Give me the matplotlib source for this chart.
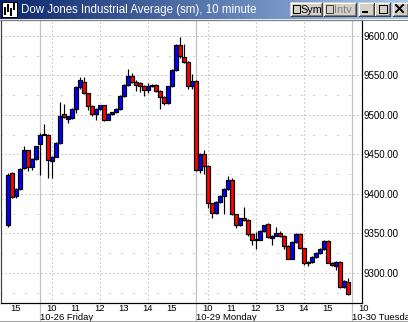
# ===============================
# Import Required Libraries
# ===============================
import numpy as np
import matplotlib
matplotlib.use("Agg")
import matplotlib.pyplot as plt
from matplotlib.patches import Rectangle
from matplotlib.colors import LinearSegmentedColormap


# ===============================
# Chart Data (10 minute bars)
# ===============================
opens = [9360, 9426, 9397, 9406, 9433, 9455, 9434, 9444, 9463, 9475,
         9475, 9442, 9447, 9464, 9501, 9495, 9496, 9507, 9535, 9542,
         9527, 9511, 9501, 9507, 9512, 9494, 9501, 9503, 9507, 9524,
         9538, 9549, 9541, 9540, 9537, 9532, 9536, 9538, 9530, 9523,
         9515, 9536, 9557, 9588, 9573, 9567, 9536, 9543, 9430, 9451,
         9435, 9388, 9376, 9390, 9397, 9406, 9418, 9374, 9360, 9370,
         9367, 9349, 9342, 9342, 9353, 9362, 9344, 9347, 9351, 9347,
         9334, 9318, 9339, 9349, 9331, 9312, 9314, 9320, 9325, 9330,
         9340, 9313, 9309, 9314, 9282, 9288]
highs = [9426, 9428, 9407, 9433, 9460, 9456, 9445, 9461, 9477, 9488,
         9476, 9448, 9465, 9516, 9514, 9499, 9508, 9536, 9548, 9548,
         9528, 9512, 9508, 9513, 9513, 9502, 9504, 9508, 9525, 9539,
         9558, 9553, 9544, 9541, 9538, 9540, 9539, 9539, 9531, 9524,
         9537, 9558, 9589, 9599, 9590, 9568, 9552, 9544, 9452, 9456,
         9436, 9389, 9391, 9398, 9407, 9422, 9420, 9375, 9370, 9383,
         9368, 9350, 9352, 9354, 9361, 9363, 9348, 9358, 9353, 9348,
         9335, 9340, 9350, 9350, 9332, 9315, 9321, 9326, 9331, 9341,
         9341, 9314, 9315, 9315, 9291, 9293]
lows = [9358, 9395, 9395, 9405, 9432, 9429, 9430, 9443, 9424, 9474,
        9420, 9420, 9446, 9463, 9496, 9490, 9495, 9502, 9533, 9526,
        9506, 9499, 9494, 9506, 9492, 9493, 9500, 9502, 9506, 9523,
        9537, 9540, 9530, 9529, 9524, 9527, 9535, 9529, 9507, 9513,
        9514, 9535, 9556, 9572, 9566, 9533, 9533, 9429, 9426, 9425,
        9382, 9369, 9375, 9389, 9374, 9405, 9373, 9357, 9359, 9366,
        9347, 9335, 9330, 9341, 9352, 9344, 9335, 9346, 9345, 9330,
        9317, 9317, 9338, 9330, 9310, 9309, 9313, 9319, 9324, 9329,
        9312, 9308, 9303, 9281, 9281, 9272]
closes = [9424, 9396, 9406, 9432, 9455, 9434, 9444, 9460, 9475, 9476,
          9443, 9447, 9464, 9499, 9497, 9498, 9507, 9535, 9544, 9527,
          9511, 9501, 9507, 9512, 9494, 9501, 9503, 9507, 9524, 9538,
          9549, 9541, 9538, 9537, 9532, 9536, 9538, 9530, 9523, 9515,
          9536, 9557, 9588, 9574, 9567, 9536, 9543, 9430, 9451, 9435,
          9388, 9376, 9390, 9397, 9406, 9418, 9374, 9360, 9369, 9367,
          9349, 9342, 9342.5, 9353, 9361, 9345, 9347, 9351, 9347, 9334,
          9318, 9339, 9349, 9331, 9313, 9314, 9320, 9325, 9330, 9340,
          9313, 9310, 9314, 9282, 9290, 9273]

# hour labels (bar position of each full hour)
hour_ticks = [2, 11, 17, 23, 29, 35, 41, 50, 56, 62, 68, 74, 80, 89]
hour_labels = ['15', '10', '11', '12', '13', '14', '15',
               '10', '11', '12', '13', '14', '15', '10']
grid_ticks = [11, 23, 35, 50, 62, 74]
day_breaks = [8, 47, 86]
day_labels = ['10-26 Friday', '10-29 Monday', '10-30 Tuesday']
price_ticks = [9300, 9350, 9400, 9450, 9500, 9550, 9600]
price_minor = [9275, 9325, 9375, 9425, 9475, 9525, 9575]

title = 'Dow Jones Industrial Average (sm), 10 minute'


# ===============================
# Figure Setup
# ===============================
W, H = 408, 322
fig = plt.figure(figsize=(W / 100, H / 100), dpi=100)
fig.patch.set_facecolor('white')
ax = fig.add_axes([1 / W, 19 / H, 361 / W, 283 / H])
ax.set_xlim(-1.625, 88.625)
ax.set_ylim(9261.8, 9620)

px = 0.72  # one pixel in points

# grid
for p in price_ticks:
    ax.axhline(p, color='#a0a0a0', lw=px, ls=(0, (1, 3)), zorder=0)
for p in price_minor:
    ax.axhline(p, color='#a0a0a0', lw=px, ls=(0, (1, 11)), zorder=0)
for t in grid_ticks:
    ax.axvline(t, color='#a0a0a0', lw=px, ls=(0, (1, 3)), zorder=0)
for t in day_breaks:
    ax.axvline(t, ymin=-0.06, ymax=1, color='#c0c0c0', lw=px * 1.2,
               clip_on=False, zorder=1)


# ===============================
# Candles
# ===============================
o = np.array(opens, dtype=float)
c = np.array(closes, dtype=float)
idx = np.arange(len(o))
up = c >= o
body_lo = np.minimum(o, c)
body_h = np.maximum(np.abs(c - o), 0.4)

ax.vlines(idx, lows, highs, color='black', lw=px * 1.2, zorder=2)
ax.bar(idx[up], body_h[up], bottom=body_lo[up], width=1.0,
       color='#0000ff', edgecolor='black', lw=px * 1.2, zorder=3)
ax.bar(idx[~up], body_h[~up], bottom=body_lo[~up], width=1.0,
       color='#ff0000', edgecolor='black', lw=px * 1.2, zorder=3)


# ===============================
# Axes and Labels
# ===============================
for s in ['left', 'top']:
    ax.spines[s].set_color('#404040')
ax.spines['right'].set_color('black')
ax.spines['bottom'].set_color('black')
for s in ax.spines.values():
    s.set_linewidth(px * 1.2)

ax.yaxis.tick_right()
ax.set_yticks(price_ticks, [f'{p:.2f}' for p in price_ticks])
ax.tick_params(axis='y', length=0, pad=1.2, labelsize=7,
               labelfontfamily='Liberation Sans')
ax.set_xticks([])

xt = ax.get_xaxis_transform()
for t, lab in zip(hour_ticks, hour_labels):
    ax.text(t, -0.005, lab, transform=xt, ha='center', va='top',
            fontsize=6.8, family='Liberation Sans', clip_on=False)
for t, lab in zip(day_breaks, day_labels):
    ax.text(t + 0.15, -0.035, lab, transform=xt, ha='left', va='top',
            fontsize=6.8, family='Liberation Sans', clip_on=False)


# ===============================
# Window Title Bar
# ===============================
deco = fig.add_axes([0, 0, 1, 1], zorder=5)
deco.set_facecolor('none')
deco.axis('off')

tb = LinearSegmentedColormap.from_list('tb', ['#0a246a', '#a6caf0'])
deco.imshow(np.linspace(0, 1, 256).reshape(1, -1), extent=(0, W, 19, 0),
            cmap=tb, aspect='auto', zorder=0)
deco.plot([0, W], [19.5, 19.5], color='#808080', lw=px)
deco.plot([0, W], [320.5, 320.5], color='#a0a0a0', lw=px)
deco.add_patch(Rectangle((0, 321), W, 1, fc='#d4d0c8', ec='none'))

# icon
deco.add_patch(Rectangle((2, 2), 15, 15, fc='white', ec='black', lw=px))
for bx, b0, b1 in [(4, 7, 15), (7, 4, 12), (10, 8, 16), (13, 3, 10)]:
    deco.add_patch(Rectangle((bx, b0), 2, b1 - b0, fc='black', ec='none'))

deco.text(21, 10, title, color='white', fontsize=8.3, va='center',
          ha='left', family='Liberation Sans')


def button(x0, x1, y0=2, y1=16):
    deco.add_patch(Rectangle((x0, y0), x1 - x0, y1 - y0, fc='#d4d0c8',
                             ec='none', zorder=2))
    deco.plot([x0 + 0.5, x1 - 0.5], [y0 + 0.5, y0 + 0.5], color='white', lw=px, zorder=3)
    deco.plot([x0 + 0.5, x0 + 0.5], [y0 + 0.5, y1 - 0.5], color='white', lw=px, zorder=3)
    deco.plot([x0 + 0.5, x1 - 0.5], [y1 - 0.5, y1 - 0.5], color='#404040', lw=px, zorder=3)
    deco.plot([x1 - 0.5, x1 - 0.5], [y0 + 0.5, y1 - 0.5], color='#404040', lw=px, zorder=3)
    deco.plot([x0 + 1.5, x1 - 1.5], [y1 - 1.5, y1 - 1.5], color='#808080', lw=px, zorder=3)
    deco.plot([x1 - 1.5, x1 - 1.5], [y0 + 1.5, y1 - 1.5], color='#808080', lw=px, zorder=3)


button(290, 322)
deco.add_patch(Rectangle((292.5, 4.5), 7, 8, fc='#d4d0c8', ec='black', lw=px, zorder=4))
deco.text(300, 9.5, 'Sym', fontsize=7.8, va='center', ha='left',
          family='Liberation Sans', zorder=4)
button(323, 356)
deco.add_patch(Rectangle((325.5, 4.5), 7, 8, fc='#d4d0c8', ec='#404040', lw=px, zorder=4))
deco.text(334, 9.5, 'Intv', fontsize=7.8, va='center', ha='left', color='#808080',
          family='Liberation Sans', zorder=4)

button(358, 374)
deco.add_patch(Rectangle((362, 11), 6, 2, fc='black', ec='none', zorder=4))
button(374, 390)
deco.add_patch(Rectangle((378.5, 4.5), 8, 8, fc='none', ec='black', lw=px, zorder=4))
deco.add_patch(Rectangle((378.5, 4.5), 8, 1.5, fc='black', ec='none', zorder=4))
button(392, 408)
deco.plot([396, 403], [5, 12], color='black', lw=1.4, zorder=4)
deco.plot([396, 403], [12, 5], color='black', lw=1.4, zorder=4)

deco.set_xlim(0, W)
deco.set_ylim(H, 0)

fig.savefig('out.png', dpi=100)
